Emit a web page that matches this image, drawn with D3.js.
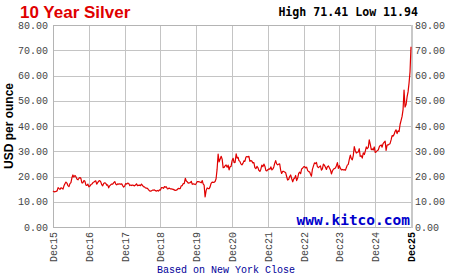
<!DOCTYPE html>
<html><head><meta charset="utf-8">
<script src="https://cdn.jsdelivr.net/npm/d3@7"></script>
<style>body{margin:0;background:#fff}svg{display:block}</style>
</head><body><svg id="c" width="450" height="275"></svg>
<script>
// Silver price (USD/oz), start point Dec 21 2015, then 3 readings per month (1st, 11th, 21st)
const silver2015 = [14.3];
const silver2016 = [13.9,14.0,14.1, 14.3,15.6,15.2, 14.9,15.5,15.4, 15.0,16.3,17.1, 17.8,17.4,16.4, 16.0,17.2,17.6,
                    19.5,20.6,19.8, 20.4,19.9,19.0, 18.7,19.3,19.6, 19.2,17.5,17.5, 18.4,18.1,16.6, 16.5,17.0,15.9];
const silver2017 = [16.2,16.8,17.0, 17.6,17.8,18.1, 18.3,17.0,17.6, 18.2,18.4,17.9, 16.8,16.3,17.2, 17.5,17.3,16.6,
                    16.7,15.5,16.3, 16.7,17.0,17.0, 17.6,18.0,17.0, 16.7,17.1,17.0, 17.1,16.9,17.1, 16.4,15.8,16.2];
const silver2018 = [17.2,17.0,17.4, 17.2,16.4,16.6, 16.4,16.6,16.5, 16.3,16.6,17.1, 16.4,16.5,16.6, 16.4,17.0,16.5,
                    16.0,15.9,15.5, 15.4,15.3,14.8, 14.3,14.2,14.3, 14.6,14.6,14.7, 14.4,14.2,14.5, 14.2,14.7,14.6];
const silver2019 = [15.6,15.6,15.3, 16.0,15.8,15.9, 15.1,15.2,15.4, 15.1,15.1,15.0, 14.9,14.7,14.5, 14.6,14.8,15.3,
                    15.2,15.2,16.3, 16.4,17.2,17.2, 19.3,18.2,17.9, 17.4,17.5,17.6, 18.1,16.9,17.1, 17.0,16.8,17.2];
const silver2020 = [18.0,18.0,17.9, 17.7,17.5,18.4, 17.1,16.6,11.94, 14.5,15.5,15.2, 15.2,15.9,17.3, 17.8,17.7,17.7,
                    18.0,19.1,22.7, 28.9,25.8,26.8, 28.0,26.9,23.5, 23.6,24.2,24.6, 23.7,24.5,22.6, 23.9,24.0,26.2];
const silver2021 = [27.2,25.5,25.6, 29.0,27.3,27.6, 26.3,26.0,25.0, 24.6,25.2,26.2, 26.0,27.6,27.9, 27.7,28.0,26.0,
                    26.3,26.1,25.4, 25.5,23.5,23.1, 24.0,23.5,22.4, 22.0,22.9,24.5, 23.9,24.9,24.1, 22.4,22.2,22.7];
const silver2022 = [23.0,22.9,23.8, 22.6,23.0,23.9, 25.2,26.3,25.0, 24.6,24.9,25.0, 22.5,21.2,22.0, 22.0,21.8,21.5,
                    20.0,18.6,18.8, 20.0,20.6,19.2, 17.9,19.0,19.4, 20.4,18.4,19.3, 21.2,21.7,21.1, 23.0,23.3,23.8];
const silver2023 = [23.9,23.4,23.7, 22.3,21.9,21.8, 21.0,20.1,22.8, 24.2,25.4,25.1, 25.6,23.9,23.5, 23.9,24.2,22.5,
                    23.0,24.9,24.5, 23.7,22.8,23.9, 24.2,23.4,22.6, 21.0,22.2,22.9, 23.2,23.4,24.3, 25.5,23.2,24.3];
const silver2024 = [23.2,22.6,22.8, 22.6,22.7,22.5, 23.5,24.5,24.8, 26.9,28.5,27.1, 26.6,28.3,31.8, 30.2,29.3,29.6,
                    29.7,31.0,28.0, 28.2,27.3,29.4, 28.7,30.1,31.7, 31.0,31.5,34.5, 32.6,30.6,30.9, 30.5,31.7,29.5];
const silver2025 = [29.8,30.3,30.5, 31.8,32.3,32.5, 31.6,33.0,33.5, 34.0,30.3,32.4, 32.5,32.8,33.0, 34.5,36.2,36.0,
                    36.6,37.8,38.5, 37.0,38.1,37.8, 40.7,42.2,43.8, 46.5,54.2,47.5, 48.5,51.5,53.5, 57.0,61.5,71.41];

const seriesYears = [2016,2017,2018,2019,2020,2021,2022,2023,2024,2025];
const seriesValues = [silver2016,silver2017,silver2018,silver2019,silver2020,silver2021,silver2022,silver2023,silver2024,silver2025];
const readingDays = [1,11,21];

const yTicks = [0,10,20,30,40,50,60,70,80];
const xTickYears = [2015,2016,2017,2018,2019,2020,2021,2022,2023,2024,2025];
const xTickLabels = ["Dec15","Dec16","Dec17","Dec18","Dec19","Dec20","Dec21","Dec22","Dec23","Dec24","Dec25"];

const titleText = "10 Year Silver";
const highLowText = "High 71.41 Low 11.94";
const yTitle = "USD per ounce";
const footText = "Based on New York Close";
const brandText = "www.kitco.com";

// build data
const data = [{date: new Date(2015, 11, 21), v: silver2015[0]}];
seriesYears.forEach((yr, k) => {
  seriesValues[k].forEach((v, i) => {
    data.push({date: new Date(yr, Math.floor(i / 3), readingDays[i % 3]), v});
  });
});

const svg = d3.select("#c");
const L = 53, R = 411, T = 25, B = 227;
const x = d3.scaleTime().domain([new Date(2015, 11, 21), new Date(2025, 11, 21)]).range([L, R]);
const y = d3.scaleLinear().domain([0, 80]).range([B, T]);

svg.append("rect").attr("width", 450).attr("height", 275).attr("fill", "#fff");

const mono = "'Liberation Mono', 'DejaVu Sans Mono', monospace";

// grid
const grid = svg.append("g").attr("stroke", "#c4c4c4").attr("stroke-width", 1).attr("shape-rendering", "crispEdges");
grid.selectAll("line.h").data(yTicks).join("line").attr("class", "h")
  .attr("x1", L).attr("x2", R).attr("y1", d => Math.round(y(d)) + 0.5).attr("y2", d => Math.round(y(d)) + 0.5);
grid.selectAll("line.v").data(xTickYears).join("line").attr("class", "v")
  .attr("y1", T).attr("y2", B)
  .attr("x1", d => Math.round(x(new Date(d, 11, 21))) + 0.5).attr("x2", d => Math.round(x(new Date(d, 11, 21))) + 0.5);

// border
svg.append("rect").attr("x", L + 0.5).attr("y", T + 0.5).attr("width", R - L).attr("height", B - T)
  .attr("fill", "none").attr("stroke", "#b4b4b4").attr("shape-rendering", "crispEdges");
svg.append("line").attr("x1", R + 1).attr("x2", R + 1).attr("y1", T).attr("y2", B + 1)
  .attr("stroke", "#c8c8c8").attr("stroke-width", 2).attr("shape-rendering", "crispEdges");

// brand
svg.append("text").attr("x", R - 1).attr("y", B - 2).attr("text-anchor", "end")
  .attr("font-family", "'DejaVu Sans Mono', monospace").attr("font-weight", "bold").attr("font-size", 14.5)
  .attr("fill", "#0000cc").text(brandText);

// line
const line = d3.line().x(d => x(d.date)).y(d => y(d.v));
svg.append("path").datum(data).attr("d", line).attr("fill", "none")
  .attr("stroke", "#e00000").attr("stroke-width", 1.2).attr("stroke-linejoin", "round");

// y labels left & right
const fmt = d3.format(".2f");
svg.append("g").selectAll("text").data(yTicks).join("text")
  .attr("x", 48).attr("y", d => y(d)).attr("dy", "0.35em").attr("text-anchor", "end")
  .attr("font-family", mono).attr("font-size", 10).attr("fill", "#444").text(d => fmt(d));
svg.append("g").selectAll("text").data(yTicks).join("text")
  .attr("x", 415).attr("y", d => y(d)).attr("dy", "0.35em").attr("text-anchor", "start")
  .attr("font-family", mono).attr("font-size", 10).attr("fill", "#444").text(d => fmt(d));

// x labels
svg.append("g").selectAll("text").data(xTickYears).join("text")
  .attr("transform", d => `translate(${x(new Date(d, 11, 21)) + 0.5},232) rotate(-90)`)
  .attr("dy", "0.35em").attr("text-anchor", "end")
  .attr("font-family", mono).attr("font-size", 10)
  .attr("font-weight", (d, i) => i === xTickYears.length - 1 ? "bold" : "normal")
  .attr("fill", (d, i) => i === xTickYears.length - 1 ? "#000" : "#444")
  .text((d, i) => xTickLabels[i]);

// titles
svg.append("text").attr("x", 20).attr("y", 18)
  .attr("font-family", "'Liberation Sans', Arial, sans-serif").attr("font-weight", "bold").attr("font-size", 17)
  .attr("fill", "#e00000").text(titleText);
svg.append("text").attr("x", 418).attr("y", 16).attr("text-anchor", "end")
  .attr("font-family", "'DejaVu Sans Mono', monospace").attr("font-weight", "bold").attr("font-size", 11.6)
  .attr("fill", "#000").text(highLowText);
svg.append("text").attr("transform", `translate(13,${(T + B) / 2}) rotate(-90)`).attr("text-anchor", "middle")
  .attr("font-family", "'Liberation Sans', Arial, sans-serif").attr("font-weight", "bold").attr("font-size", 12)
  .attr("fill", "#000").text(yTitle);
svg.append("text").attr("x", 226).attr("y", 272.5).attr("text-anchor", "middle")
  .attr("font-family", mono).attr("font-size", 10).attr("fill", "#000099").text(footText);
</script></body></html>
